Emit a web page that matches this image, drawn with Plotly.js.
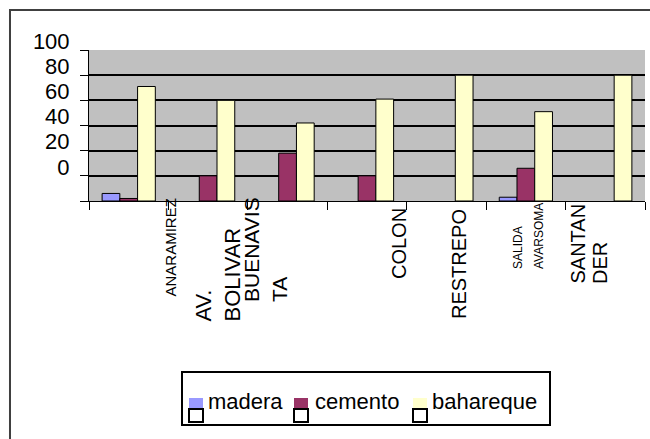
<!DOCTYPE html>
<html>
<head>
<meta charset="utf-8">
<script src="https://cdn.plot.ly/plotly-3.0.1.min.js"></script>
<style>html,body{margin:0;padding:0;background:#fff;}#chart{width:650px;height:439px;}</style>
</head>
<body>
<div id="chart"></div>
<script>
// ---- data ----
var categories = ['ANARAMIREZ', 'AV. BOLIVAR', 'BUENAVISTA', 'COLON', 'RESTREPO', 'SALIDA AVARSOMA', 'SANTANDER'];
var categoryLabels = ['ANARAMIREZ', 'AV.<br>BOLIVAR', 'BUENAVIS<br>TA', 'COLON', 'RESTREPO', 'SALIDA<br>AVARSOMA', 'SANTAN<br>DER'];
var madera    = [6, 0, 0, 0, 0, 3, 0];
var cemento   = [2, 20, 38, 20, 0, 26, 0];
var bahareque = [91, 80, 62, 81, 100, 71, 100];
var seriesNames = ['madera', 'cemento', 'bahareque'];
var yTickVals = [0, 20, 40, 60, 80, 100, 120];
var yTickText = ['', '0', '20', '40', '60', '80', '100'];

// ---- styles ----
var colors = ['#9999FF', '#993366', '#FFFFCC'];
var FONT = 'Arial, Liberation Sans, sans-serif';
// plot area in pixels (for converting decoration positions to paper coords)
var PL = 89, PR = 645, PT = 50, PB = 201;
function px2x(p){ return (p - PL) / (PR - PL); }
function px2y(p){ return (PB - p) / (PB - PT); }

// category label placement: first-line centre x (px), line pitch (px), bottom (px), font size
var labelX = [169.5, 202.5, 251.5, 398.5, 459, 517.5, 577.5];
var labelPitch = [0, 29, 28, 0, 0, 21.5, 22.5];
var labelBottom = [298, 323, 303, 280, 320, 270, 285];
var labelSize = [15, 22, 21, 20, 20, 12, 20];

function nz(arr){ return arr.map(function(v){ return v === 0 ? null : v; }); }

var allSeries = [madera, cemento, bahareque];
var traces = allSeries.map(function(vals, k){
  return {
    type: 'bar',
    name: seriesNames[k],
    x: categories,
    y: nz(vals),
    marker: {color: colors[k], line: {color: '#000', width: 1}},
    showlegend: false,
    hoverinfo: 'x+y+name'
  };
});

var annotations = [];
categoryLabels.forEach(function(lbl, i){
  lbl.split('<br>').forEach(function(line, j){
    annotations.push({
      text: line,
      xref: 'paper', yref: 'paper',
      x: px2x(labelX[i] + j * labelPitch[i]), y: 0,
      xanchor: 'center', yanchor: 'bottom',
      yshift: -(labelBottom[i] - PB),
      textangle: -90,
      showarrow: false,
      borderpad: 0,
      font: {family: FONT, size: labelSize[i], color: '#000'}
    });
  });
});

// ---- legend (drawn as in the reference: swatch over a small hollow box) ----
var legendBox = {x0: 182, x1: 550, y0: 372, y1: 425};
var legendSwatchX = [189, 294, 413];
var legendTextX = [207, 314, 431];
var shapes = [
  {type: 'rect', xref: 'paper', yref: 'paper', x0: -0.1421, x1: 1.03, y0: -1.66, y1: px2y(10),
   line: {color: '#404040', width: 2}, fillcolor: 'rgba(0,0,0,0)', layer: 'below'},
  {type: 'rect', xref: 'paper', yref: 'paper',
   x0: px2x(legendBox.x0), x1: px2x(legendBox.x1), y0: px2y(legendBox.y1), y1: px2y(legendBox.y0),
   line: {color: '#000', width: 2}, fillcolor: '#fff'}
];
seriesNames.forEach(function(n, k){
  var sx = legendSwatchX[k];
  shapes.push({type: 'rect', xref: 'paper', yref: 'paper',
    x0: px2x(sx), x1: px2x(sx + 14), y0: px2y(422), y1: px2y(409),
    line: {color: '#000', width: 2}, fillcolor: '#fff'});
  shapes.push({type: 'rect', xref: 'paper', yref: 'paper',
    x0: px2x(sx), x1: px2x(sx + 14), y0: px2y(408), y1: px2y(398),
    line: {width: 0}, fillcolor: colors[k]});
  annotations.push({
    text: n, xref: 'paper', yref: 'paper',
    x: px2x(legendTextX[k]), y: px2y(401),
    xanchor: 'left', yanchor: 'middle', showarrow: false, borderpad: 0,
    font: {family: FONT, size: 22, color: '#000'}
  });
});

var layout = {
  width: 650, height: 439,
  margin: {l: PL, r: 650 - PR, t: PT, b: 439 - PB},
  paper_bgcolor: '#fff',
  plot_bgcolor: '#C0C0C0',
  barmode: 'group',
  bargap: 0.33,
  bargroupgap: 0,
  showlegend: false,
  font: {family: FONT, color: '#000'},
  xaxis: {
    type: 'category',
    range: [-0.5, 6.5],
    tickson: 'boundaries',
    ticks: 'outside', ticklen: 8, tickcolor: '#000', tickwidth: 1,
    showticklabels: false,
    showline: true, linecolor: '#000', linewidth: 1,
    showgrid: false, zeroline: false, fixedrange: true
  },
  yaxis: {
    range: [0, 120],
    tickmode: 'array', tickvals: yTickVals, ticktext: yTickText,
    ticks: 'outside', ticklen: 8, tickcolor: '#000', tickwidth: 1,
    ticklabelshift: -9, ticklabelstandoff: 6,
    tickfont: {size: 22, color: '#000'},
    showline: true, linecolor: '#000', linewidth: 1,
    showgrid: true, gridcolor: '#000', gridwidth: 2,
    zeroline: false, fixedrange: true
  },
  annotations: annotations,
  shapes: shapes
};

Plotly.newPlot('chart', traces, layout, {displayModeBar: false, staticPlot: true});
</script>
</body>
</html>
